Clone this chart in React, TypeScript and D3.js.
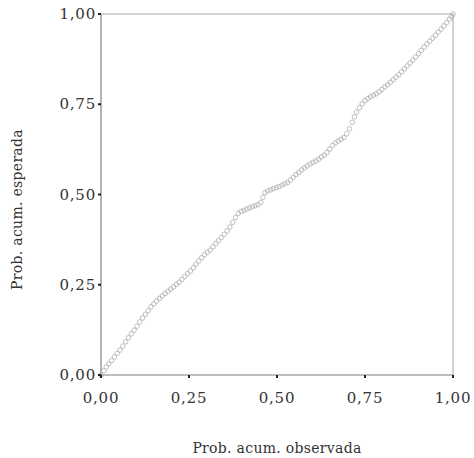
import React from "react";
import * as d3 from "d3";

const observed = [
  0.000, 0.008, 0.015, 0.022, 0.030, 0.038, 0.046, 0.054, 0.062, 0.070, 0.078, 0.086, 0.094, 0.102, 0.110, 0.118,
  0.126, 0.134, 0.142, 0.150, 0.158, 0.166, 0.174, 0.182, 0.190, 0.198, 0.206, 0.214, 0.222, 0.230, 0.238, 0.246,
  0.254, 0.262, 0.270, 0.278, 0.286, 0.294, 0.302, 0.310, 0.318, 0.326, 0.334, 0.342, 0.350, 0.358, 0.366, 0.374,
  0.382, 0.390, 0.398, 0.406, 0.414, 0.422, 0.430, 0.438, 0.446, 0.454, 0.460, 0.466, 0.474, 0.482, 0.490, 0.498,
  0.506, 0.514, 0.522, 0.530, 0.538, 0.546, 0.554, 0.562, 0.570, 0.578, 0.586, 0.594, 0.602, 0.610, 0.618, 0.626,
  0.634, 0.642, 0.650, 0.658, 0.666, 0.674, 0.682, 0.690, 0.698, 0.706, 0.714, 0.720, 0.726, 0.734, 0.742, 0.750,
  0.758, 0.766, 0.774, 0.782, 0.790, 0.798, 0.806, 0.814, 0.822, 0.830, 0.838, 0.846, 0.854, 0.862, 0.870, 0.878,
  0.886, 0.894, 0.902, 0.910, 0.918, 0.926, 0.934, 0.942, 0.950, 0.958, 0.966, 0.974, 0.982, 0.990, 0.996, 1.000,
];

const expected = [
  0.000, 0.012, 0.022, 0.031, 0.040, 0.050, 0.060, 0.069, 0.080, 0.092, 0.103, 0.114, 0.124, 0.135, 0.147, 0.158,
  0.168, 0.178, 0.189, 0.197, 0.205, 0.212, 0.219, 0.226, 0.232, 0.238, 0.244, 0.251, 0.257, 0.265, 0.273, 0.281,
  0.288, 0.297, 0.307, 0.316, 0.325, 0.333, 0.340, 0.346, 0.355, 0.364, 0.372, 0.381, 0.390, 0.399, 0.410, 0.423,
  0.436, 0.448, 0.453, 0.456, 0.460, 0.463, 0.466, 0.469, 0.472, 0.478, 0.492, 0.505, 0.510, 0.513, 0.516, 0.519,
  0.522, 0.526, 0.530, 0.533, 0.540, 0.548, 0.555, 0.561, 0.568, 0.574, 0.579, 0.584, 0.589, 0.593, 0.598, 0.604,
  0.609, 0.616, 0.626, 0.636, 0.643, 0.648, 0.653, 0.658, 0.668, 0.682, 0.700, 0.715, 0.728, 0.740, 0.751, 0.760,
  0.766, 0.771, 0.775, 0.779, 0.785, 0.791, 0.798, 0.804, 0.811, 0.818, 0.825, 0.832, 0.840, 0.848, 0.856, 0.864,
  0.872, 0.881, 0.890, 0.899, 0.908, 0.917, 0.925, 0.933, 0.941, 0.950, 0.958, 0.967, 0.976, 0.986, 0.993, 1.000,
];

const ticks = [0, 0.25, 0.5, 0.75, 1];
const tickLabels = ["0,00", "0,25", "0,50", "0,75", "1,00"];
const xTitle = "Prob. acum. observada";
const yTitle = "Prob. acum. esperada";

export default function App() {
  const W = 474, H = 458;
  const left = 101, right = 453, top = 14, bottom = 375;
  const x = d3.scaleLinear().domain([0, 1]).range([left, right]);
  const y = d3.scaleLinear().domain([0, 1]).range([bottom, top]);
  const font = "'DejaVu Serif', serif";
  const pts = observed.map((o, i) => [o, expected[i]] as [number, number]);
  return (
    <svg width={W} height={H} style={{ position: "absolute", left: 0, top: 0, background: "#fff" }}>
      <rect x={0} y={0} width={W} height={H} fill="#fff" />
      {/* frame */}
      <line x1={left} x2={right} y1={top} y2={top} stroke="#c8c8c8" strokeWidth={1.5} />
      <line x1={right} x2={right} y1={top} y2={bottom} stroke="#b4b4b4" strokeWidth={1.2} />
      <line x1={left} x2={left} y1={top} y2={bottom} stroke="#9a9a9a" strokeWidth={1.5} />
      <line x1={left} x2={right} y1={bottom} y2={bottom} stroke="#a8a8a8" strokeWidth={1.5} />
      {/* points */}
      <g fill="none" stroke="#b0b0b0" strokeWidth={1} strokeOpacity={0.8}>
        {pts.map((p, i) => (
          <circle key={i} cx={x(p[0])} cy={y(p[1])} r={2.3} />
        ))}
      </g>
      {/* x ticks */}
      {ticks.map((t, i) => (
        <g key={"x" + i}>
          <line x1={x(t)} x2={x(t)} y1={bottom} y2={bottom + 3} stroke="#222" strokeWidth={2} />
          <text x={x(t)} y={403} textAnchor="middle" fontFamily={font} fontSize={15} letterSpacing={0.8} fill="#333">
            {tickLabels[i]}
          </text>
        </g>
      ))}
      {/* y ticks */}
      {ticks.map((t, i) => (
        <g key={"y" + i}>
          <line x1={left - 3} x2={left} y1={y(t)} y2={y(t)} stroke="#222" strokeWidth={2} />
          <text x={96} y={y(t) + 5} textAnchor="end" fontFamily={font} fontSize={15} letterSpacing={0.8} fill="#333">
            {tickLabels[i]}
          </text>
        </g>
      ))}
      <text x={277} y={453} textAnchor="middle" fontFamily={font} fontSize={14} letterSpacing={0.3} fill="#333">
        {xTitle}
      </text>
      <text
        transform={`translate(22, ${(top + bottom) / 2 + 15}) rotate(-90)`}
        textAnchor="middle"
        fontFamily={font}
        fontSize={14}
        letterSpacing={0.3}
        fill="#333"
      >
        {yTitle}
      </text>
    </svg>
  );
}
